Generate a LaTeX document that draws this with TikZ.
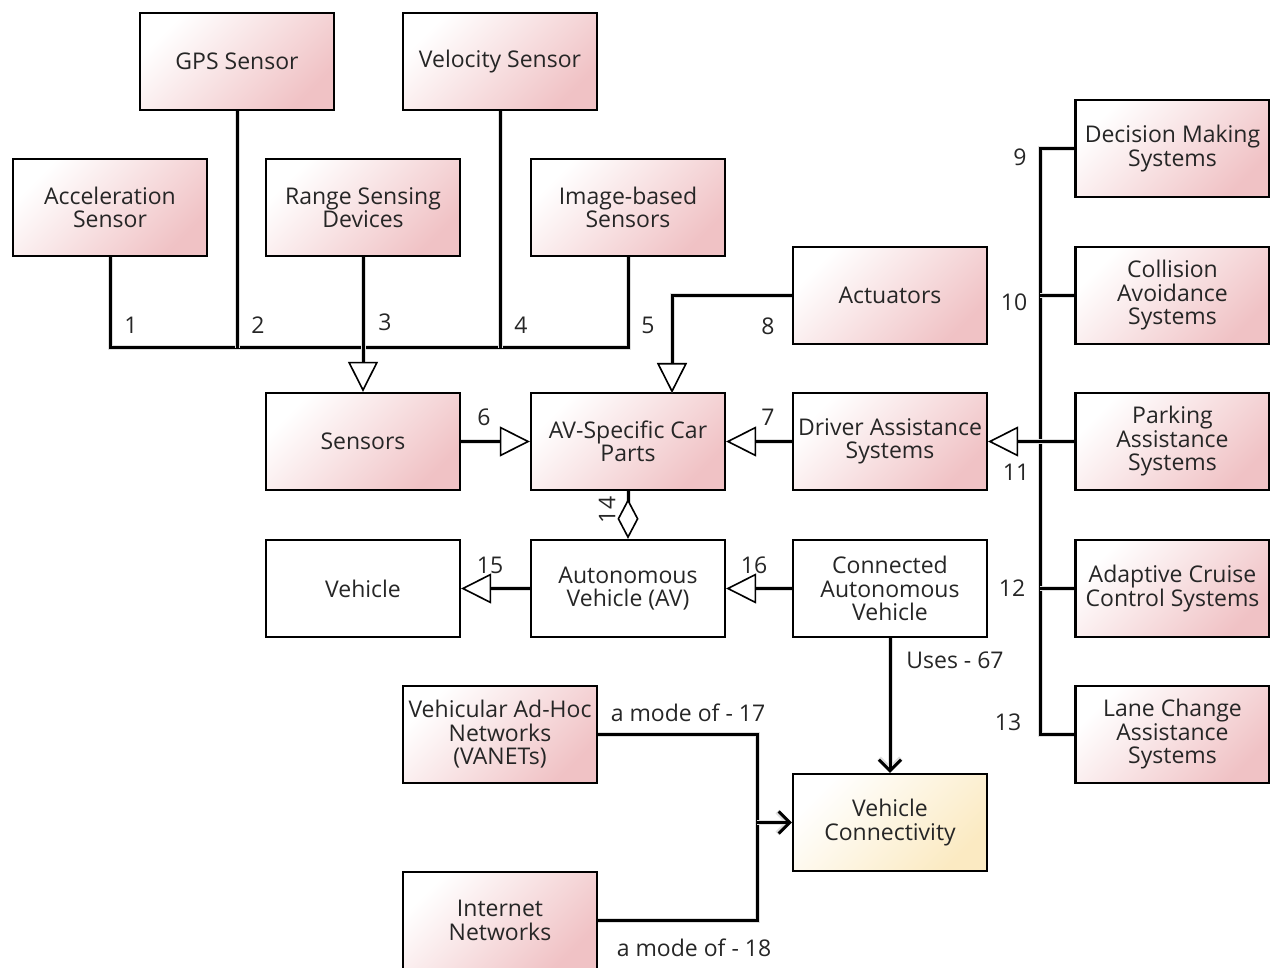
\documentclass[tikz,border=0pt]{standalone}
\usepackage{fontspec}
\setmainfont{Open Sans}
\usetikzlibrary{arrows.meta}
\definecolor{boxpink}{RGB}{240,194,197}
\definecolor{boxyellow}{RGB}{251,234,194}
\definecolor{txt}{RGB}{38,38,38}
\begin{document}
\begin{tikzpicture}[x=1pt,y=-1pt,
  box/.style={draw=black, line width=2.4pt, minimum width=194pt, minimum height=97pt,
    inner sep=0pt, align=center, text=txt, font=\fontsize{23}{23.5}\selectfont},
  pinkbox/.style={box, top color=white, bottom color=boxpink, shading angle=45},
  yellowbox/.style={box, top color=white, bottom color=boxyellow, shading angle=45},
  plainbox/.style={box, fill=white},
  lbl/.style={text=txt, inner sep=0pt, font=\fontsize{23}{23.5}\selectfont},
  conn/.style={line width=3pt, black, line join=miter,
    preaction={draw=gray!25, line width=5pt}},
  tri/.style={-{Triangle[fill=white, length=30pt, width=30pt, line width=1.6pt]}},
  barb/.style={-{Straight Barb[length=11pt, width=22pt]}},
  agg/.style={{Diamond[fill=white, length=40pt, width=21pt, line width=1.6pt]}-}
]
\useasboundingbox (0,0) rectangle (1270,968);

% sensor hierarchy
\node[pinkbox] (gps) at (237,61.5) {GPS Sensor};
\node[pinkbox] (vel) at (500,61.5) {Velocity Sensor};
\node[pinkbox] (acc) at (110,207.5) {Acceleration\\Sensor};
\node[pinkbox] (rng) at (363,207.5) {Range Sensing\\Devices};
\node[pinkbox] (img) at (628,207.5) {Image-based\\Sensors};
\node[pinkbox] (act) at (890,295.5) {Actuators};

% driver assistance subsystems
\node[pinkbox] (dms) at (1172.5,148.5) {Decision Making\\Systems};
\node[pinkbox] (cas) at (1172.5,295.5) {Collision\\Avoidance\\Systems};
\node[pinkbox] (pas) at (1172.5,441.5) {Parking\\Assistance\\Systems};
\node[pinkbox] (acs) at (1172.5,588.5) {Adaptive Cruise\\Control Systems};
\node[pinkbox] (lcs) at (1172.5,734.5) {Lane Change\\Assistance\\Systems};

% central row
\node[pinkbox] (sens) at (363,441.5) {Sensors};
\node[pinkbox] (avp) at (628,441.5) {AV-Specific Car\\Parts};
\node[pinkbox] (das) at (890,441.5) {Driver Assistance\\Systems};

% vehicle row
\node[plainbox] (veh) at (363,588.5) {Vehicle};
\node[plainbox] (av) at (628,588.5) {Autonomous\\Vehicle (AV)};
\node[plainbox] (cav) at (890,588.5) {Connected\\Autonomous\\Vehicle};

% connectivity
\node[pinkbox] (vanet) at (500,734.5) {Vehicular Ad-Hoc\\Networks\\(VANETs)};
\node[pinkbox] (inet) at (500,920.5) {Internet\\Networks};
\node[yellowbox] (vc) at (890,822.5) {Vehicle\\Connectivity};

% sensor generalisations
\coordinate (sj) at (363,348);
\draw[conn] (acc.south) |- (sj) -| (img.south);
\draw[conn] (gps.south) -- (gps.south |- sj);
\draw[conn] (vel.south) -- (vel.south |- sj);
\draw[conn, tri] (rng.south) -- (sens.north);

% car part generalisations
\coordinate (aj) at (672,393);
\draw[conn, tri] (act.west) -| (aj);
\draw[conn, tri] (sens.east) -- (avp.west);
\draw[conn, tri] (das.west) -- (avp.east);

% driver assistance bus
\coordinate (bus) at (1040,441.5);
\draw[conn] (dms.west) -| (bus) |- (lcs.west);
\draw[conn] (cas.west) -- (cas.west -| bus);
\draw[conn] (acs.west) -- (acs.west -| bus);
\draw[conn] (pas.west) -- (bus);
\draw[conn, tri] (bus) -- (das.east);

% vehicle relations
\draw[conn, agg] (av.north) -- (avp.south);
\draw[conn, tri] (av.west) -- (veh.east);
\draw[conn, tri] (cav.west) -- (av.east);
\draw[conn, barb] (cav.south) -- (vc.north);

% network modes
\coordinate (mj) at (757,822.5);
\draw[conn] (vanet.east) -| (mj);
\draw[conn] (inet.east) -| (mj);
\draw[conn, barb] (mj) -- (vc.west);

% connector labels
\node[lbl] (l1) at (131,325) {1};
\node[lbl] (l2) at (258,325) {2};
\node[lbl] (l3) at (385,322) {3};
\node[lbl] (l4) at (521,325) {4};
\node[lbl] (l5) at (648,325) {5};
\node[lbl] (l6) at (484,417) {6};
\node[lbl] (l7) at (768,417) {7};
\node[lbl] (l8) at (768,326) {8};
\node[lbl] (l9) at (1020,157) {9};
\node[lbl] (l10) at (1014,302) {10};
\node[lbl] (l11) at (1016,472) {11};
\node[lbl] (l12) at (1012,588) {12};
\node[lbl] (l13) at (1008,722) {13};
\node[lbl, rotate=90] (l14) at (607,510) {14};
\node[lbl] (l15) at (490,565) {15};
\node[lbl] (l16) at (754,565) {16};
\node[lbl] (l67) at (955,660) {Uses - 67};
\node[lbl] (l17) at (688,713) {a mode of - 17};
\node[lbl] (l18) at (694,948) {a mode of - 18};
\end{tikzpicture}
\end{document}
